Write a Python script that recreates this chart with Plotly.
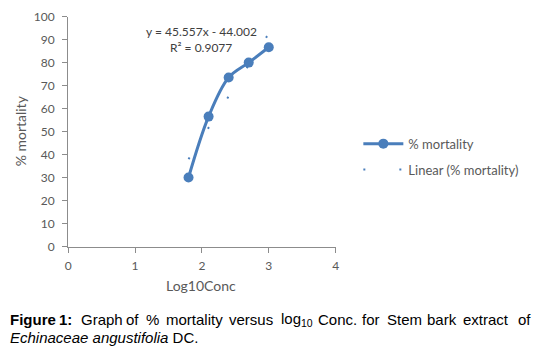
import plotly.graph_objects as go

# ---- data ----
log_conc = [1.8, 2.1, 2.4, 2.7, 3.0]
mortality = [30.0, 56.5, 73.5, 80.0, 86.7]
slope = 45.557
intercept = -44.002
r_squared = 0.9077
x_ticks = [0, 1, 2, 3, 4]
y_ticks = [0, 10, 20, 30, 40, 50, 60, 70, 80, 90, 100]

W, H = 541, 356
BLUE = "#4A7EBB"
GRAY_TXT = "#595959"
AXIS = "#8C8C8C"
FONT = "Lato"

trend_x = [min(log_conc), max(log_conc)]
trend_y = [slope * v + intercept for v in trend_x]

fig = go.Figure()
fig.add_trace(go.Scatter(
    x=log_conc, y=mortality, mode="lines+markers", name="% mortality",
    line=dict(color=BLUE, width=3, shape="spline", smoothing=1),
    marker=dict(color=BLUE, size=10, symbol="circle"),
    legendgroup="a",
))
fig.add_trace(go.Scatter(
    x=trend_x, y=trend_y, mode="lines", name="Linear (% mortality)",
    line=dict(color=BLUE, width=2, dash="2px,34px"),
    legendgroup="b",
))

def px_x(p):
    return p / W

def px_y(p):
    return 1 - p / H

fig.update_layout(
    width=W, height=H, autosize=False,
    margin=dict(l=0, r=0, t=0, b=0),
    paper_bgcolor="white", plot_bgcolor="white",
    font=dict(family=FONT, color=GRAY_TXT, size=12),
    showlegend=True,
    legend=dict(
        x=px_x(360), y=px_y(126), xanchor="left", yanchor="top",
        font=dict(family=FONT, size=13, color=GRAY_TXT),
        itemwidth=40, tracegroupgap=6, bgcolor="rgba(0,0,0,0)",
    ),
    xaxis=dict(
        domain=[px_x(66), px_x(337)], range=[0, 4],
        tickvals=x_ticks, ticktext=[str(v) for v in x_ticks],
        showgrid=False, zeroline=False, showline=True, linecolor=AXIS, linewidth=1,
        ticks="outside", ticklen=5, tickcolor=AXIS,
        tickfont=dict(family=FONT, size=12, color=GRAY_TXT),
        ticklabelstandoff=3,
    ),
    yaxis=dict(
        domain=[px_y(249), px_y(9)], range=[0, 100],
        tickvals=y_ticks, ticktext=[str(v) for v in y_ticks],
        showgrid=False, zeroline=False, showline=True, linecolor=AXIS, linewidth=1,
        ticks="outside", ticklen=5, tickcolor=AXIS,
        tickfont=dict(family=FONT, size=12, color=GRAY_TXT),
        ticklabelstandoff=5,
    ),
)

ann = []
# axis titles
ann.append(dict(x=px_x(201), y=px_y(290), xref="paper", yref="paper", text="Log10Conc",
                xanchor="center", yanchor="middle",
                showarrow=False, font=dict(family=FONT, size=14, color=GRAY_TXT)))
ann.append(dict(x=px_x(18), y=px_y(128), xref="paper", yref="paper", text="% mortality",
                xanchor="center", yanchor="middle",
                textangle=-90, showarrow=False, font=dict(family=FONT, size=14, color=GRAY_TXT)))
# trendline equation
ann.append(dict(x=px_x(201), y=px_y(25), xref="paper", yref="paper",
                xanchor="center", yanchor="middle",
                text=f"y = {slope}x - {abs(intercept):.3f}", showarrow=False,
                font=dict(family=FONT, size=12, color="#404040")))
ann.append(dict(x=px_x(201), y=px_y(41), xref="paper", yref="paper",
                xanchor="center", yanchor="middle",
                text=f"R² = {r_squared}", showarrow=False,
                font=dict(family=FONT, size=12, color="#404040")))

# caption (justified first line placed word by word)
CAP = "Liberation Sans"
cap_size = 15
line1 = [
    ("<b>Figure</b>", 5), ("<b>1:</b>", 55), ("Graph", 77), ("of", 123), ("%", 143),
    ("mortality", 163), ("versus", 227), ("log<sub>10</sub>", 280), ("Conc.", 317),
    ("for", 362), ("Stem", 387), ("bark", 428), ("extract", 464), ("of", 520),
]
for word, xp in line1:
    ann.append(dict(x=px_x(xp), y=px_y(325), xref="paper", yref="paper", text=word,
                    xanchor="left", yanchor="middle", showarrow=False,
                    font=dict(family=CAP, size=cap_size, color="black")))
ann.append(dict(x=px_x(5), y=px_y(344), xref="paper", yref="paper",
                text="<i>Echinaceae angustifolia</i> DC.",
                xanchor="left", yanchor="middle", showarrow=False,
                font=dict(family=CAP, size=cap_size, color="black")))

fig.update_layout(annotations=ann)

pin_js = (
    "var d=document.getElementById('{plot_id}');"
    "d.style.position='fixed';d.style.left='0px';d.style.top='0px';"
    "document.body.style.margin='0';document.body.style.overflow='hidden';"
    "document.documentElement.style.overflow='hidden';"
)
fig.write_html("out.html", post_script=pin_js,
               config={"displayModeBar": False, "responsive": False})
